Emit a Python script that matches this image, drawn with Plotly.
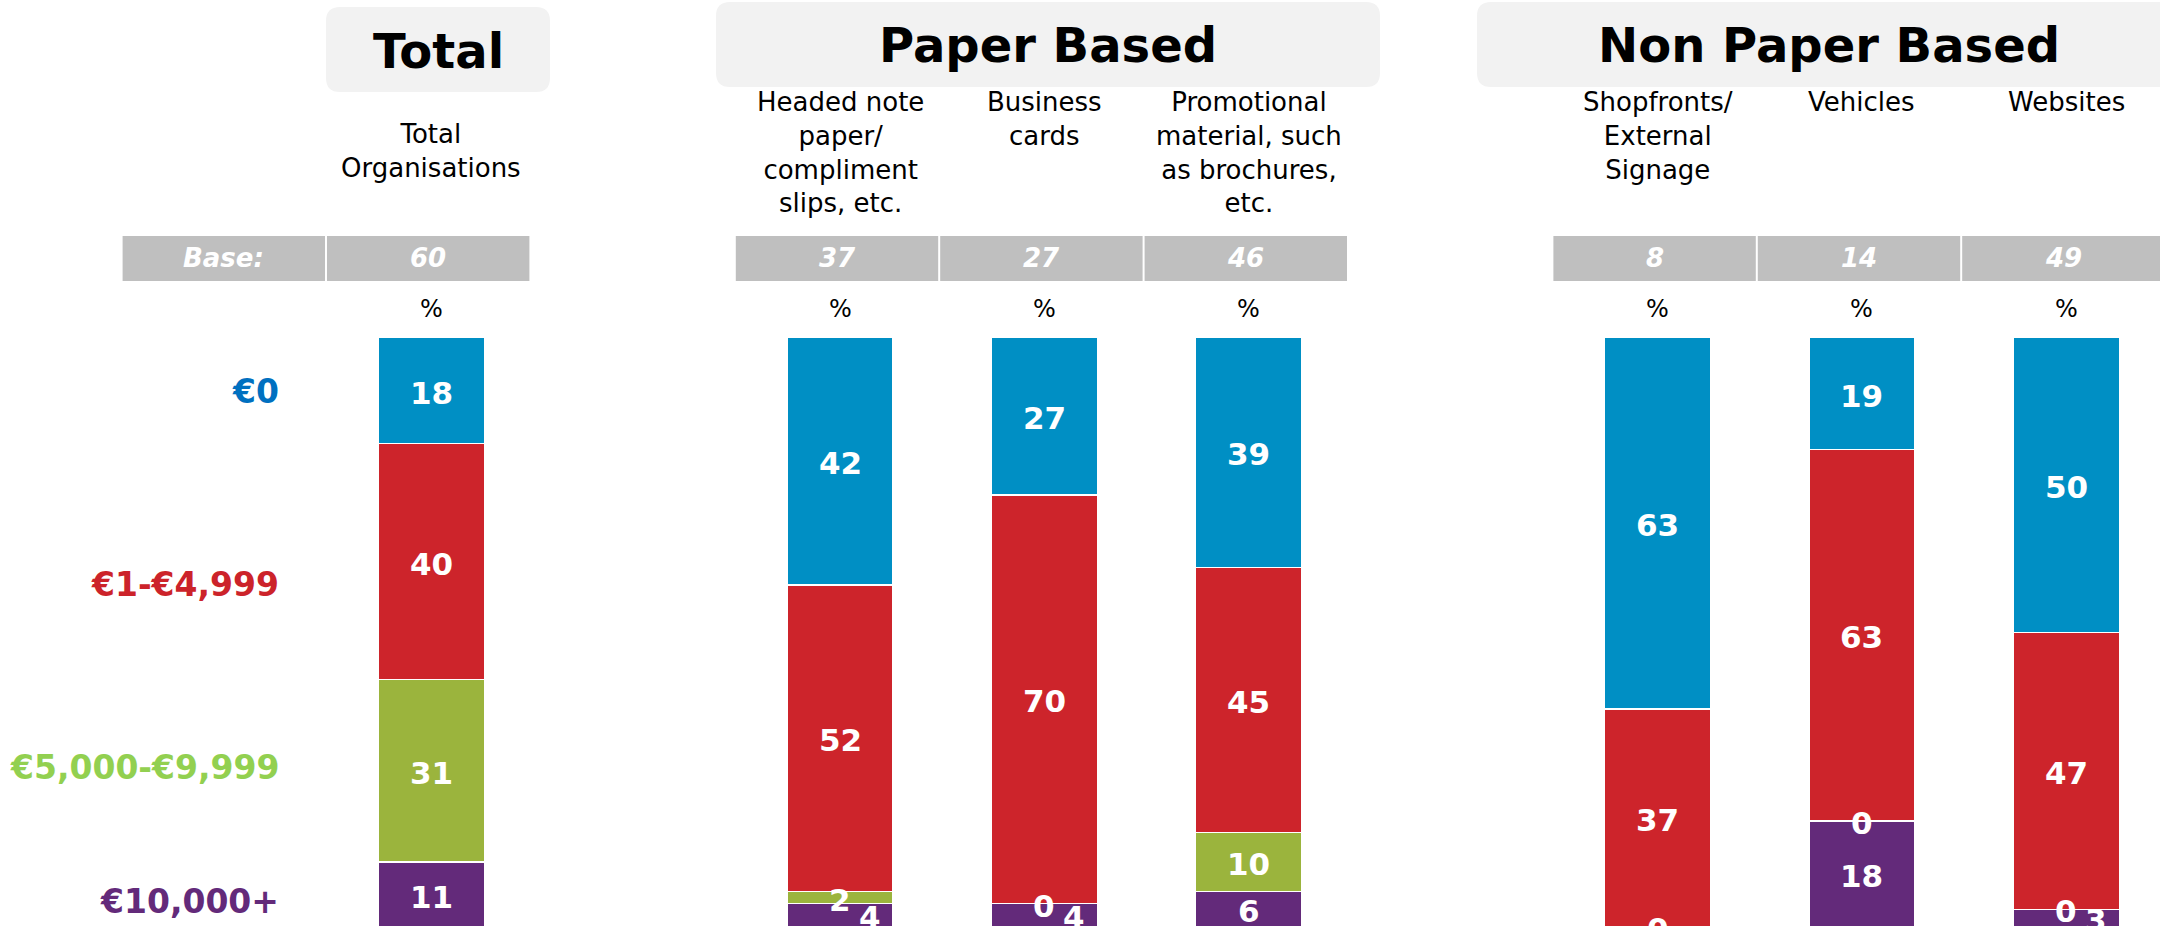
import plotly.graph_objects as go

# ---------------- data ----------------
CATEGORY_LABELS = [
    "Total<br>Organisations",
    "Headed note<br>paper/<br>compliment<br>slips, etc.",
    "Business<br>cards",
    "Promotional<br>material, such<br>as brochures,<br>etc.",
    "Shopfronts/<br>External<br>Signage",
    "Vehicles",
    "Websites",
]
GROUP_TITLES = ["Total", "Paper Based", "Non Paper Based"]
BASES = [60, 37, 27, 46, 8, 14, 49]
SERIES_NAMES = ["€0", "€1-€4,999", "€5,000-€9,999", "€10,000+"]
SPEND_0 = [18, 42, 27, 39, 63, 19, 50]
SPEND_1_4999 = [40, 52, 70, 45, 37, 63, 47]
SPEND_5000_9999 = [31, 2, 0, 10, 0, 0, 0]
SPEND_10000_PLUS = [11, 4, 4, 6, 0, 18, 3]
X_POS = [0, 2, 3, 4, 6, 7, 8]

# ---------------- style ----------------
W, H = 2160, 927
BAR_COLORS = ["#008FC4", "#CD242B", "#9BB43D", "#632A7A"]
LEGEND_COLORS = ["#0070C0", "#CC232A", "#92D050", "#632A7A"]
FONT = "DejaVu Sans, Verdana, sans-serif"
X_RANGE = [-2.1096, 8.458]
Y_RANGE = [0, 157.25]
PX_PER_UNIT = 204.4


def px(x):
    return x / W


def py(y):
    return 1 - y / H


def rrect_path(x0, y0, x1, y1, r):
    pts = [
        f"M {px(x0 + r)},{py(y0)}",
        f"L {px(x1 - r)},{py(y0)}",
        f"Q {px(x1)},{py(y0)} {px(x1)},{py(y0 + r)}",
        f"L {px(x1)},{py(y1 - r)}",
        f"Q {px(x1)},{py(y1)} {px(x1 - r)},{py(y1)}",
        f"L {px(x0 + r)},{py(y1)}",
        f"Q {px(x0)},{py(y1)} {px(x0)},{py(y1 - r)}",
        f"L {px(x0)},{py(y0 + r)}",
        f"Q {px(x0)},{py(y0)} {px(x0 + r)},{py(y0)}",
        "Z",
    ]
    return " ".join(pts)


fig = go.Figure()

series_values = [SPEND_0, SPEND_1_4999, SPEND_5000_9999, SPEND_10000_PLUS]
# plotly stacks the first trace at the bottom -> add purple first, blue last
for k in [3, 2, 1, 0]:
    fig.add_trace(go.Bar(
        x=X_POS, y=series_values[k], name=SERIES_NAMES[k],
        marker=dict(color=BAR_COLORS[k], line=dict(color="white", width=1.5)),
        width=0.52, showlegend=False, hoverinfo="skip",
    ))

annotations = []
shapes = []

# segment value labels
for i, xv in enumerate(X_POS):
    vals_bottom_up = [SPEND_10000_PLUS[i], SPEND_5000_9999[i], SPEND_1_4999[i], SPEND_0[i]]
    total = sum(vals_bottom_up)
    mids = []
    cum = 0
    for v in vals_bottom_up:
        mids.append((cum + v / 2) / total * 100)
        cum += v
    placed = []
    for j in [3, 2, 1, 0]:
        v = vals_bottom_up[j]
        m = round(mids[j], 4)
        if v == 0 and m in placed:
            continue
        placed.append(m)
        xshift = 30 if (j == 0 and v < 5) else 0
        annotations.append(dict(
            x=xv, y=mids[j], xref="x", yref="y", text=str(v), showarrow=False,
            xanchor="center", yanchor="middle", xshift=xshift, yshift=-2,
            font=dict(family=FONT, size=31, color="white", weight="bold"),
        ))

# left legend labels
legend_y = [392, 584, 767, 901]
for k in range(4):
    annotations.append(dict(
        x=px(281), y=py(legend_y[k]), xref="paper", yref="paper", xanchor="right",
        yanchor="middle", text=f"<b>{SERIES_NAMES[k]}</b>", showarrow=False,
        font=dict(family=FONT, size=33, color=LEGEND_COLORS[k]),
    ))

# group title boxes
title_boxes = [(326, 7, 550, 92), (716, 2, 1380, 87), (1477, 2, 2190, 87)]
title_centers = [438, 1048, 1829]
for t, (x0, y0, x1, y1), cx in zip(GROUP_TITLES, title_boxes, title_centers):
    shapes.append(dict(type="path", path=rrect_path(x0, y0, x1, y1, 14), xref="paper",
                       yref="paper", fillcolor="#F2F2F2", line=dict(width=0), layer="below"))
    annotations.append(dict(
        x=px(cx), y=py((y0 + y1) / 2 + 1), xref="paper", yref="paper", text=f"<b>{t}</b>",
        showarrow=False, xanchor="center", yanchor="middle",
        font=dict(family=FONT, size=48, color="black"),
    ))

# category labels
label_top = [117, 85, 85, 85, 85, 85, 85]
for i, xv in enumerate(X_POS):
    annotations.append(dict(
        x=xv, y=py(label_top[i]), xref="x", yref="paper", xanchor="center", yanchor="top",
        text=CATEGORY_LABELS[i], showarrow=False, align="center",
        font=dict(family=FONT, size=26, color="black"),
    ))

# base row
base_y0, base_y1 = 236, 281
half = 0.5 - 1.0 / PX_PER_UNIT
dx = -3.0 / PX_PER_UNIT
shapes.append(dict(type="rect", x0=-1 - half + dx, x1=-1 + half + dx, xref="x", yref="paper",
                   y0=py(base_y1), y1=py(base_y0), fillcolor="#BFBFBF", line=dict(width=0)))
annotations.append(dict(
    x=-1 + dx, y=py((base_y0 + base_y1) / 2), xref="x", yref="paper", text="<b><i>Base:</i></b>",
    showarrow=False, xanchor="center", yanchor="middle",
    font=dict(family=FONT, size=26, color="white"),
))
for i, xv in enumerate(X_POS):
    shapes.append(dict(type="rect", x0=xv - half + dx, x1=xv + half + dx, xref="x", yref="paper",
                       y0=py(base_y1), y1=py(base_y0), fillcolor="#BFBFBF", line=dict(width=0)))
    annotations.append(dict(
        x=xv + dx, y=py((base_y0 + base_y1) / 2), xref="x", yref="paper",
        text=f"<b><i>{BASES[i]}</i></b>", showarrow=False, xanchor="center", yanchor="middle",
        font=dict(family=FONT, size=26, color="white"),
    ))
    annotations.append(dict(
        x=xv, y=py(309), xref="x", yref="paper", text="%", showarrow=False,
        xanchor="center", yanchor="middle",
        font=dict(family=FONT, size=24, color="black"),
    ))

fig.update_layout(
    width=W, height=H,
    barmode="stack", barnorm="percent",
    margin=dict(l=0, r=0, t=0, b=0),
    paper_bgcolor="white", plot_bgcolor="white",
    xaxis=dict(range=X_RANGE, visible=False, fixedrange=True),
    yaxis=dict(range=Y_RANGE, visible=False, fixedrange=True),
    annotations=annotations, shapes=shapes,
    showlegend=False,
)

fig.write_html("out.html", post_script="document.body.style.margin='0';",
               config={"displayModeBar": False})
